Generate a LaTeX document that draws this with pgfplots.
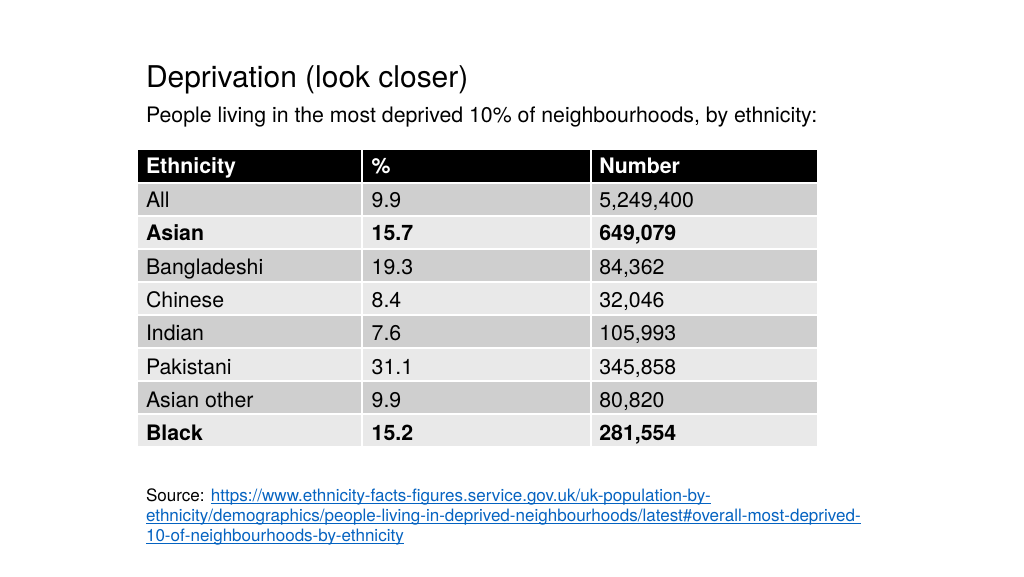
\documentclass[border=0pt]{standalone}
\usepackage{fontspec}
\setmainfont{TeX Gyre Heros}
\usepackage{pgfplots}
\pgfplotsset{compat=1.18}
\definecolor{rowdark}{HTML}{CFCFCF}
\definecolor{rowlight}{HTML}{E9E9E9}
\definecolor{linkblue}{HTML}{0563C1}
% link underline close to the baseline
\newcommand{\ul}[1]{\setbox0\hbox{#1}\rlap{\rule[-1.6pt]{\wd0}{0.6pt}}\box0}

% one table row as a filled band, pixel coordinates
\newcommand{\band}[3]{%
  \addplot[fill=#3, draw=white, line width=1.5pt]
    coordinates {(137,#1) (819,#1) (819,#2) (137,#2) (137,#1)};}

\begin{document}
\begin{tikzpicture}
\begin{axis}[
  width=768pt, height=432pt, scale only axis,
  xmin=0, xmax=1024, ymin=0, ymax=576, y dir=reverse,
  axis lines=none, ticks=none, clip=false,
  every axis plot/.append style={mark=none},
  nodes near coords, point meta=explicit symbolic,
  every node near coord/.append style={anchor=base west, inner sep=0pt, font=\fontsize{16}{18}\selectfont},
]
% background
\addplot[fill=white, draw=none, nodes near coords=] coordinates {(0,0) (1024,0) (1024,576) (0,576)};

% header and rows
\band{149}{182.5}{black}
\band{182.5}{215.5}{rowdark}
\band{215.5}{248.5}{rowlight}
\band{248.5}{281.5}{rowdark}
\band{281.5}{314.5}{rowlight}
\band{314.5}{347.5}{rowdark}
\band{347.5}{380.5}{rowlight}
\band{380.5}{413.5}{rowdark}
\band{413.5}{447}{rowlight}
\addplot[draw=white, line width=1.5pt, nodes near coords=] coordinates {(362.5,149) (362.5,447)};
\addplot[draw=white, line width=1.5pt, nodes near coords=] coordinates {(591.5,149) (591.5,447)};

% header text
\addplot[draw=none, every node near coord/.append style={text=white, font=\fontsize{16}{18}\selectfont\bfseries}]
  coordinates {(146,173) [Ethnicity] (372,173) [\%] (600,173) [Number]};

% column 1
\addplot[draw=none] coordinates {
  (146,207) [All] (146,240.5) [\textbf{Asian}] (146,274) [Bangladeshi]
  (146,307) [Chinese] (146,340.5) [Indian] (146,374) [Pakistani]
  (146,407) [Asian other] (146,440.5) [\textbf{Black}]};
% column 2
\addplot[draw=none] coordinates {
  (372,207) [9.9] (372,240.5) [\textbf{15.7}] (372,274) [19.3]
  (372,307) [8.4] (372,340.5) [7.6] (372,374) [31.1]
  (372,407) [9.9] (372,440.5) [\textbf{15.2}]};
% column 3
\addplot[draw=none] coordinates {
  (600,207) [5,249,400] (600,240.5) [\textbf{649,079}] (600,274) [84,362]
  (600,307) [32,046] (600,340.5) [105,993] (600,374) [345,858]
  (600,407) [80,820] (600,440.5) [\textbf{281,554}]};

% title, subtitle, source
\node[anchor=base west, inner sep=0pt, font=\fontsize{22.5}{26}\selectfont] at (axis cs:146,87) {Deprivation (look closer)};
\node[anchor=base west, inner sep=0pt, font=\fontsize{16}{19}\selectfont] at (axis cs:146,122) {People living in the most deprived 10\% of neighbourhoods, by ethnicity:};
\node[anchor=base west, inner sep=0pt, font=\fontsize{12.8}{15}\selectfont] at (axis cs:146,502) {Source: \textcolor{linkblue}{\ul{https://www.ethnicity-facts-figures.service.gov.uk/uk-population-by-}}};
\node[anchor=base west, inner sep=0pt, font=\fontsize{12.8}{15}\selectfont, text=linkblue] at (axis cs:146,522) {\ul{ethnicity/demographics/people-living-in-deprived-neighbourhoods/latest\#overall-most-deprived-}};
\node[anchor=base west, inner sep=0pt, font=\fontsize{12.8}{15}\selectfont, text=linkblue] at (axis cs:146,542) {\ul{10-of-neighbourhoods-by-ethnicity}};
\end{axis}
\end{tikzpicture}
\end{document}
